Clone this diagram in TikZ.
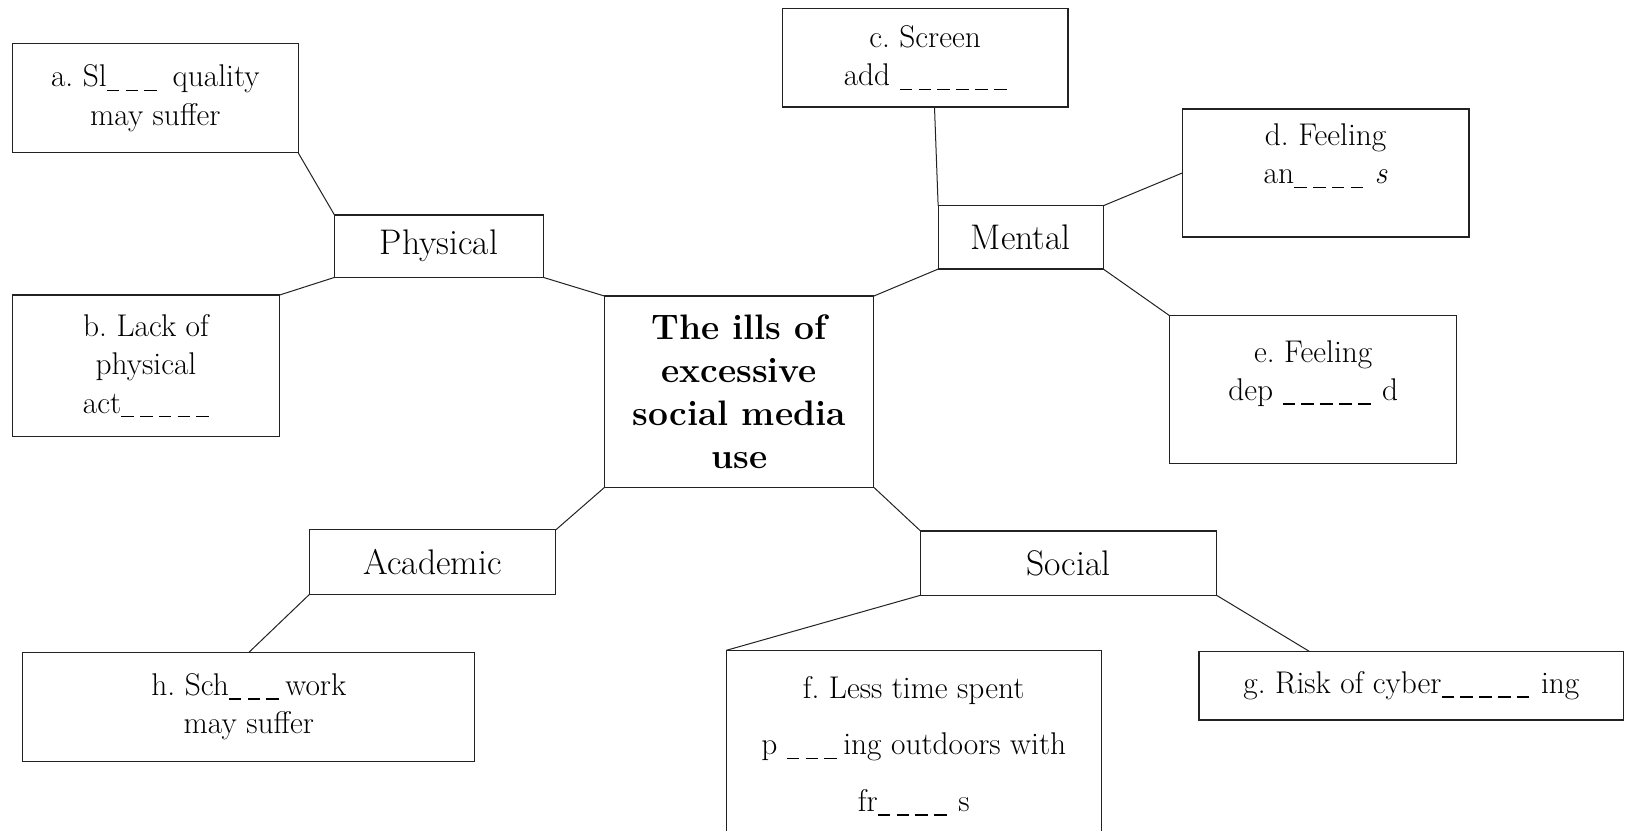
\documentclass[tikz,border=0pt]{standalone}
\usepackage{tikz}
\usetikzlibrary{calc,positioning}
\definecolor{ink}{HTML}{000000}
\definecolor{edge}{HTML}{222222}
\frenchspacing
\newcommand{\blk}{\rule[-0.13em]{0.4em}{0.04em}\hspace{0.2em}}
\newcommand{\blanks}[1]{\foreach \k in {1,...,#1}{\blk}}
\tikzset{
  box/.style 2 args={draw=edge, line width=0.7pt, inner sep=0pt, outer sep=0pt,
    anchor=north west, minimum width=#1*0.02cm, minimum height=#2*0.02cm,
    align=center, text=ink},
  leaf/.style={font=\fontsize{17.2}{21}\selectfont},
  branch/.style={font=\fontsize{19.5}{23}\selectfont},
  hub/.style={font=\fontsize{19.4}{23.7}\selectfont\bfseries},
  link/.style={draw=edge, line width=0.55pt},
}

\begin{document}
\begin{tikzpicture}[x=0.02cm, y=-0.02cm]
  \useasboundingbox (0,0) rectangle (1568,799);
  \clip (0,0) rectangle (1568,799);

  % centre and the four branches
  \node[box={259}{184}, hub] (hub) at (582,285) {The ills of\\excessive\\social media\\use};
  \node[box={201}{60}, branch] (phys) at (322,207) {Physical};
  \node[box={159}{61}, branch] (mental) at (903,198) {Mental};
  \node[box={237}{62}, branch] (acad) at (298,510) {Academic};
  \node[box={285}{62}, branch] (social) at (886,511) {Social};

  % the gap-fill boxes
  \node[box={275}{105}, leaf] (a) at (12,42) {a. Sl\blanks{3} quality\\may suffer};
  \node[box={257}{136}, leaf] (b) at (12,284) {b. Lack of\\physical\\act\blanks{5}};
  \node[box={275}{95}, leaf] (c) at (753,8) {c. Screen\\add \blanks{6}};
  \node[box={276}{123}, leaf] (d) at (1138,105) {d. Feeling\\an\blanks{4}\,\textit{s}\\\mbox{}};
  \node[box={276}{142}, leaf] (e) at (1126,304) {e. Feeling\\dep \blanks{5}\,d\\\mbox{}};
  \node[box={361}{184}, leaf] (f) at (699,626) {f. Less time spent\\[10pt]p \blanks{3}ing outdoors with\\[10pt]fr\blanks{4}\,s};
  \node[box={409}{66}, leaf] (g) at (1154,627) {g. Risk of cyber\blanks{5}\,ing};
  \node[box={435}{105}, leaf] (h) at (22,628) {h. Sch\blanks{3}work\\may suffer};

  \draw[link] (a.south east) -- (phys.north west);
  \draw[link] (b.north east) -- (phys.south west);
  \draw[link] (phys.south east) -- (hub.north west);
  \draw[link] ([xshift=0.18cm]c.south) -- (mental.north west);
  \draw[link] (mental.north east) -- (d.west);
  \draw[link] (mental.south east) -- (e.north west);
  \draw[link] (mental.south west) -- (hub.north east);
  \draw[link] (hub.south west) -- (acad.north east);
  \draw[link] (acad.south west) -- (h.north);
  \draw[link] (hub.south east) -- (social.north west);
  \draw[link] (social.south west) -- (f.north west);
  \draw[link] (social.south east) -- ($(g.north west)!0.26!(g.north east)$);
\end{tikzpicture}
\end{document}
